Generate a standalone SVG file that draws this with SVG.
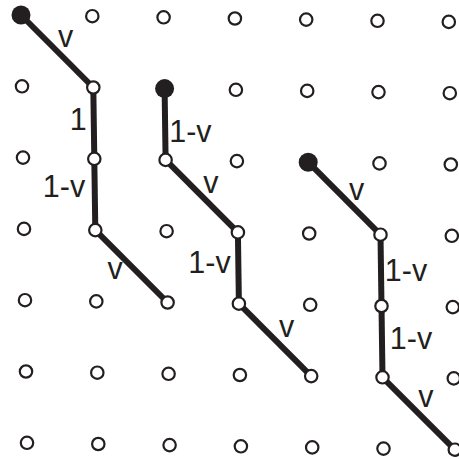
<svg xmlns="http://www.w3.org/2000/svg" width="459" height="459" viewBox="0 0 459 459">
<style>
.o{fill:#fff;stroke:#231f20;stroke-width:2.2}
.f{fill:#231f20;stroke:none}
.e{stroke:#231f20;stroke-width:6;fill:none;stroke-linecap:butt}
.t{font-family:"Liberation Sans",Arial,sans-serif;font-size:30.5px;fill:#231f20;text-anchor:middle}
</style>
<rect width="459" height="459" fill="#fff"/>
<g id="connectors">
<line class="e" x1="21" y1="15" x2="93.3" y2="87.5"/>
<line class="e" x1="93.3" y1="87.5" x2="94.3" y2="158.8"/>
<line class="e" x1="94.3" y1="158.8" x2="95.3" y2="230.1"/>
<line class="e" x1="95.3" y1="230.1" x2="167.6" y2="302.5"/>
<line class="e" x1="164.6" y1="88.6" x2="165.6" y2="159.9"/>
<line class="e" x1="165.6" y1="159.9" x2="237.9" y2="232.4"/>
<line class="e" x1="237.9" y1="232.4" x2="238.9" y2="303.7"/>
<line class="e" x1="238.9" y1="303.7" x2="311.2" y2="376.1"/>
<line class="e" x1="308.2" y1="162.2" x2="380.5" y2="234.7"/>
<line class="e" x1="380.5" y1="234.7" x2="381.5" y2="306"/>
<line class="e" x1="381.5" y1="306" x2="382.5" y2="377.3"/>
<line class="e" x1="382.5" y1="377.3" x2="454.8" y2="449.7"/>
</g>
<g id="labels">
<text class="t" x="65.5" y="46.7">v</text>
<text class="t" x="78.3" y="130">1</text>
<text class="t" x="64" y="197">1-v</text>
<text class="t" x="115" y="279">v</text>
<text class="t" x="190.4" y="141.7">1-v</text>
<text class="t" x="210.8" y="193">v</text>
<text class="t" x="209.5" y="273.3">1-v</text>
<text class="t" x="286.7" y="337">v</text>
<text class="t" x="356.5" y="200">v</text>
<text class="t" x="406" y="280.7">1-v</text>
<text class="t" x="411" y="349">1-v</text>
<text class="t" x="425.8" y="407.3">v</text>
</g>
<g id="nodes">
<g id="n0-0"><circle class="f" cx="21" cy="15" r="9.5"/></g>
<g id="n0-1"><circle class="o" cx="92.3" cy="16.2" r="6.2"/></g>
<g id="n0-2"><circle class="o" cx="163.6" cy="17.3" r="6.2"/></g>
<g id="n0-3"><circle class="o" cx="234.9" cy="18.5" r="6.2"/></g>
<g id="n0-4"><circle class="o" cx="306.2" cy="19.6" r="6.2"/></g>
<g id="n0-5"><circle class="o" cx="377.5" cy="20.8" r="6.2"/></g>
<g id="n0-6"><circle class="o" cx="448.8" cy="21.9" r="6.2"/></g>
<g id="n1-0"><circle class="o" cx="22" cy="86.3" r="6.2"/></g>
<g id="n1-1"><circle class="o" cx="93.3" cy="87.5" r="6.2"/></g>
<g id="n1-2"><circle class="f" cx="164.6" cy="88.6" r="9.5"/></g>
<g id="n1-3"><circle class="o" cx="235.9" cy="89.8" r="6.2"/></g>
<g id="n1-4"><circle class="o" cx="307.2" cy="90.9" r="6.2"/></g>
<g id="n1-5"><circle class="o" cx="378.5" cy="92.1" r="6.2"/></g>
<g id="n1-6"><circle class="o" cx="449.8" cy="93.2" r="6.2"/></g>
<g id="n2-0"><circle class="o" cx="23" cy="157.6" r="6.2"/></g>
<g id="n2-1"><circle class="o" cx="94.3" cy="158.8" r="6.2"/></g>
<g id="n2-2"><circle class="o" cx="165.6" cy="159.9" r="6.2"/></g>
<g id="n2-3"><circle class="o" cx="236.9" cy="161.1" r="6.2"/></g>
<g id="n2-4"><circle class="f" cx="308.2" cy="162.2" r="9.5"/></g>
<g id="n2-5"><circle class="o" cx="379.5" cy="163.4" r="6.2"/></g>
<g id="n2-6"><circle class="o" cx="450.8" cy="164.5" r="6.2"/></g>
<g id="n3-0"><circle class="o" cx="24" cy="228.9" r="6.2"/></g>
<g id="n3-1"><circle class="o" cx="95.3" cy="230.1" r="6.2"/></g>
<g id="n3-2"><circle class="o" cx="166.6" cy="231.2" r="6.2"/></g>
<g id="n3-3"><circle class="o" cx="237.9" cy="232.4" r="6.2"/></g>
<g id="n3-4"><circle class="o" cx="309.2" cy="233.5" r="6.2"/></g>
<g id="n3-5"><circle class="o" cx="380.5" cy="234.7" r="6.2"/></g>
<g id="n3-6"><circle class="o" cx="451.8" cy="235.8" r="6.2"/></g>
<g id="n4-0"><circle class="o" cx="25" cy="300.2" r="6.2"/></g>
<g id="n4-1"><circle class="o" cx="96.3" cy="301.4" r="6.2"/></g>
<g id="n4-2"><circle class="o" cx="167.6" cy="302.5" r="6.2"/></g>
<g id="n4-3"><circle class="o" cx="238.9" cy="303.7" r="6.2"/></g>
<g id="n4-4"><circle class="o" cx="310.2" cy="304.8" r="6.2"/></g>
<g id="n4-5"><circle class="o" cx="381.5" cy="306" r="6.2"/></g>
<g id="n4-6"><circle class="o" cx="452.8" cy="307.1" r="6.2"/></g>
<g id="n5-0"><circle class="o" cx="26" cy="371.5" r="6.2"/></g>
<g id="n5-1"><circle class="o" cx="97.3" cy="372.7" r="6.2"/></g>
<g id="n5-2"><circle class="o" cx="168.6" cy="373.8" r="6.2"/></g>
<g id="n5-3"><circle class="o" cx="239.9" cy="375" r="6.2"/></g>
<g id="n5-4"><circle class="o" cx="311.2" cy="376.1" r="6.2"/></g>
<g id="n5-5"><circle class="o" cx="382.5" cy="377.3" r="6.2"/></g>
<g id="n5-6"><circle class="o" cx="453.8" cy="378.4" r="6.2"/></g>
<g id="n6-0"><circle class="o" cx="27" cy="442.8" r="6.2"/></g>
<g id="n6-1"><circle class="o" cx="98.3" cy="444" r="6.2"/></g>
<g id="n6-2"><circle class="o" cx="169.6" cy="445.1" r="6.2"/></g>
<g id="n6-3"><circle class="o" cx="240.9" cy="446.3" r="6.2"/></g>
<g id="n6-4"><circle class="o" cx="312.2" cy="447.4" r="6.2"/></g>
<g id="n6-5"><circle class="o" cx="383.5" cy="448.6" r="6.2"/></g>
<g id="n6-6"><circle class="o" cx="454.8" cy="449.7" r="6.2"/></g>
</g>
</svg>
